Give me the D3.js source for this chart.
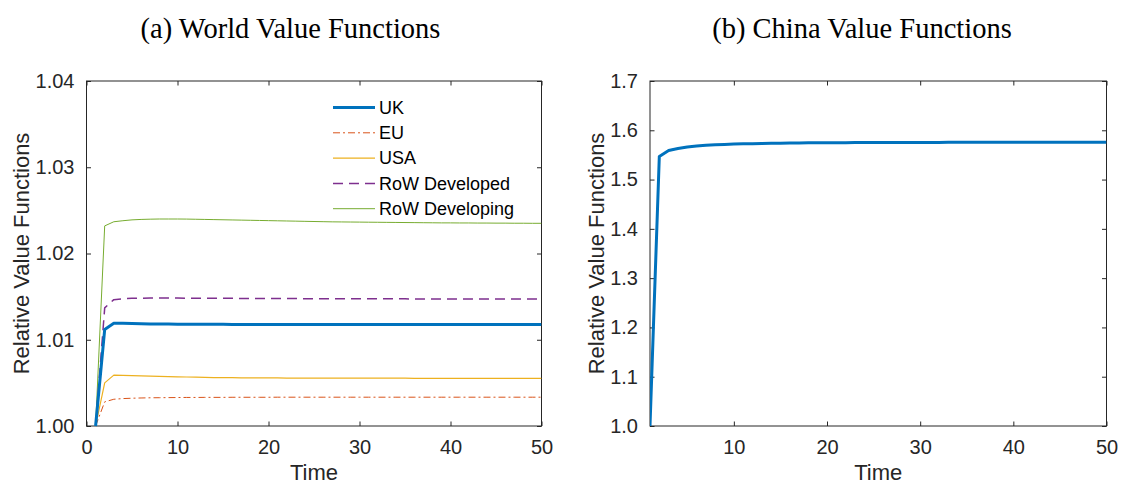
<!DOCTYPE html>
<html><head><meta charset="utf-8">
<script src="https://cdn.jsdelivr.net/npm/d3@7"></script>
<style>body{margin:0;background:#fff}svg{display:block}</style>
</head><body>
<svg id="c" width="1121" height="485"></svg>
<script>
const time = d3.range(1, 51);
const uk = [1.0000,1.0112,1.0119,1.01190,1.01188,1.01186,1.01184,1.01183,1.01182,1.01181,
1.01180,1.01180,1.01179,1.01179,1.01179,1.01178,1.01178,1.01178,1.01178,1.01178,
1.01178,1.01178,1.01178,1.01178,1.01178,1.01178,1.01178,1.01178,1.01178,1.01178,
1.01178,1.01178,1.01178,1.01178,1.01178,1.01178,1.01178,1.01178,1.01178,1.01178,
1.01178,1.01178,1.01178,1.01178,1.01178,1.01178,1.01178,1.01178,1.01178,1.01178];
const eu = [1.0000,1.0028,1.0031,1.00318,1.00322,1.00325,1.00327,1.00328,1.00329,1.00330,
1.00331,1.00331,1.00332,1.00332,1.00332,1.00333,1.00333,1.00333,1.00333,1.00333,
1.00334,1.00334,1.00334,1.00334,1.00334,1.00334,1.00334,1.00334,1.00334,1.00334,
1.00334,1.00334,1.00334,1.00334,1.00334,1.00334,1.00334,1.00334,1.00334,1.00334,
1.00334,1.00334,1.00334,1.00334,1.00334,1.00334,1.00334,1.00334,1.00334,1.00334];
const usa = [1.0000,1.0050,1.00590,1.00588,1.00585,1.00582,1.00579,1.00576,1.00573,1.00570,
1.00568,1.00566,1.00564,1.00562,1.00561,1.00560,1.00559,1.00558,1.00558,1.00557,
1.00557,1.00556,1.00556,1.00556,1.00555,1.00555,1.00555,1.00555,1.00554,1.00554,
1.00554,1.00554,1.00554,1.00554,1.00554,1.00553,1.00553,1.00553,1.00553,1.00553,
1.00553,1.00553,1.00553,1.00553,1.00553,1.00553,1.00553,1.00553,1.00553,1.00553];
const rowDeveloped = [1.0000,1.0137,1.01465,1.01475,1.01480,1.01482,1.01483,1.01483,1.01483,1.01483,
1.01482,1.01482,1.01481,1.01481,1.01480,1.01480,1.01479,1.01479,1.01478,1.01478,
1.01477,1.01477,1.01477,1.01476,1.01476,1.01476,1.01475,1.01475,1.01475,1.01475,
1.01474,1.01474,1.01474,1.01474,1.01474,1.01473,1.01473,1.01473,1.01473,1.01473,
1.01473,1.01473,1.01472,1.01472,1.01472,1.01472,1.01472,1.01472,1.01472,1.01472];
const rowDeveloping = [1.0000,1.0232,1.02368,1.02380,1.02390,1.02395,1.02398,1.02400,1.02400,1.02400,
1.02399,1.02397,1.02395,1.02393,1.02391,1.02389,1.02387,1.02385,1.02383,1.02381,
1.02379,1.02377,1.02375,1.02373,1.02371,1.02369,1.02367,1.02366,1.02365,1.02364,
1.02363,1.02362,1.02361,1.02360,1.02359,1.02358,1.02357,1.02356,1.02355,1.02355,
1.02354,1.02354,1.02353,1.02353,1.02352,1.02352,1.02351,1.02351,1.02350,1.02350];
const china = [1.0000,1.5470,1.5590,1.5630,1.5660,1.5680,1.5695,1.5705,1.5713,1.5720,
1.5725,1.5729,1.5733,1.5736,1.5739,1.5741,1.5743,1.5745,1.5746,1.5747,
1.5748,1.5749,1.5750,1.5751,1.5751,1.5752,1.5752,1.5753,1.5753,1.5754,
1.5754,1.5754,1.5755,1.5755,1.5755,1.5755,1.5756,1.5756,1.5756,1.5756,
1.5756,1.5756,1.5757,1.5757,1.5757,1.5757,1.5757,1.5757,1.5757,1.5757];
const leftYTicks = [1.00,1.01,1.02,1.03,1.04];
const leftXTicks = [0,10,20,30,40,50];
const rightYTicks = [1.0,1.1,1.2,1.3,1.4,1.5,1.6,1.7];
const rightXTicks = [10,20,30,40,50];
const seriesNames = ["UK","EU","USA","RoW Developed","RoW Developing"];

const svg = d3.select("#c");
const axCol = "#262626";
const font = "'Liberation Sans', Arial, sans-serif";

function panel(opt){
  const g = svg.append("g");
  const x = d3.scaleLinear().domain(opt.xd).range([opt.l, opt.r]);
  const y = d3.scaleLinear().domain(opt.yd).range([opt.b, opt.t]);
  const tl = 4.5;
  const bottom = g.append("g").attr("transform",`translate(0,${opt.b})`)
    .call(d3.axisBottom(x).tickValues(opt.xt).tickSizeInner(-tl).tickSizeOuter(0).tickPadding(14).tickFormat(d3.format("d")));
  const top = g.append("g").attr("transform",`translate(0,${opt.t})`)
    .call(d3.axisTop(x).tickValues(opt.xt).tickSizeInner(-tl).tickSizeOuter(0).tickFormat(""));
  const left = g.append("g").attr("transform",`translate(${opt.l},0)`)
    .call(d3.axisLeft(y).tickValues(opt.yt).tickSizeInner(-tl).tickSizeOuter(0).tickPadding(12).tickFormat(d3.format(opt.yf)));
  const right = g.append("g").attr("transform",`translate(${opt.r},0)`)
    .call(d3.axisRight(y).tickValues(opt.yt).tickSizeInner(-tl).tickSizeOuter(0).tickFormat(""));
  [bottom,top,left,right].forEach(a=>{
    a.select(".domain").remove();
    a.selectAll("line").attr("stroke",axCol);
    a.selectAll("text").attr("fill",axCol).style("font-family",font).style("font-size","20px");
  });
  g.append("rect").attr("x",opt.l).attr("y",opt.t).attr("width",opt.r-opt.l).attr("height",opt.b-opt.t)
    .attr("fill","none").attr("stroke",axCol).attr("stroke-width",1);
  const clip = "clip"+opt.id;
  svg.append("clipPath").attr("id",clip).append("rect")
    .attr("x",opt.l).attr("y",opt.t-2).attr("width",opt.r-opt.l).attr("height",opt.b-opt.t+4);
  const lg = g.append("g").attr("clip-path",`url(#${clip})`);
  const line = d3.line().x((d,i)=>x(time[i])).y(d=>y(d));
  opt.series.forEach(s=>{
    lg.append("path").attr("d",line(s.v)).attr("fill","none").attr("stroke",s.c)
      .attr("stroke-width",s.w).attr("stroke-dasharray",s.da||null).attr("stroke-linejoin","round");
  });
  g.append("text").attr("x",(opt.l+opt.r)/2).attr("y",480).attr("text-anchor","middle")
    .attr("fill",axCol).style("font-family",font).style("font-size","22px").text("Time");
  g.append("text").attr("transform",`translate(${opt.yl},${(opt.t+opt.b)/2}) rotate(-90)`)
    .attr("text-anchor","middle").attr("fill",axCol).style("font-family",font).style("font-size","22px")
    .text("Relative Value Functions");
  g.append("text").attr("x",opt.tx).attr("y",38).attr("text-anchor","middle").attr("fill","#000")
    .style("font-family","'Liberation Serif','Times New Roman',serif").style("font-size","28.5px").text(opt.title);
  return {g,x,y};
}

const leftSeries = [
  {n:seriesNames[0], v:uk, c:"#0072BD", w:3},
  {n:seriesNames[1], v:eu, c:"#D95319", w:1, da:"7,3,2,3"},
  {n:seriesNames[2], v:usa, c:"#EDB120", w:1.2},
  {n:seriesNames[3], v:rowDeveloped, c:"#7E2F8E", w:1.5, da:"10,6"},
  {n:seriesNames[4], v:rowDeveloping, c:"#77AC30", w:1}
];
panel({id:"a", l:86.5, r:541.5, t:81, b:426, xd:[0,50], yd:[1.00,1.04], xt:leftXTicks, yt:leftYTicks, yf:".2f",
  series:[leftSeries[4],leftSeries[3],leftSeries[2],leftSeries[1],leftSeries[0]], yl:29, tx:290.5, title:"(a) World Value Functions"});
panel({id:"b", l:650, r:1106.5, t:81, b:426, xd:[1,50], yd:[1.0,1.7], xt:rightXTicks, yt:rightYTicks, yf:".1f",
  series:[{v:china, c:"#0072BD", w:3}], yl:604, tx:862, title:"(b) China Value Functions"});

const leg = svg.append("g");
leftSeries.forEach((s,i)=>{
  const yy = 107.5 + i*25.3;
  leg.append("line").attr("x1",333).attr("x2",375).attr("y1",yy).attr("y2",yy)
    .attr("stroke",s.c).attr("stroke-width",s.w).attr("stroke-dasharray",s.da||null);
  leg.append("text").attr("x",379).attr("y",yy).attr("dy","0.35em").attr("fill","#000")
    .style("font-family",font).style("font-size","18px").text(s.n);
});
</script>
</body></html>
